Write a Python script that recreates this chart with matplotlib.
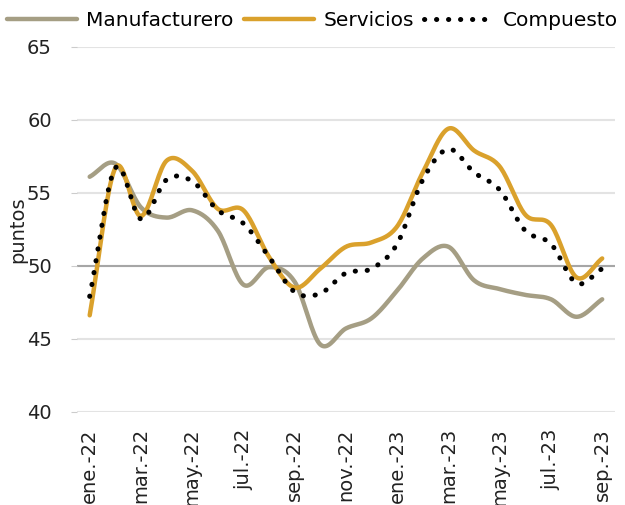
import numpy as np
import matplotlib
matplotlib.use("Agg")
import matplotlib.pyplot as plt

months = ["ene.-22", "feb.-22", "mar.-22", "abr.-22", "may.-22", "jun.-22", "jul.-22",
          "ago.-22", "sep.-22", "oct.-22", "nov.-22", "dic.-22", "ene.-23", "feb.-23",
          "mar.-23", "abr.-23", "may.-23", "jun.-23", "jul.-23", "ago.-23", "sep.-23"]
manufacturero = [56.1, 57.0, 54.0, 53.3, 53.8, 52.4, 48.7, 49.9, 48.9, 44.6, 45.7,
                 46.4, 48.3, 50.5, 51.3, 49.0, 48.4, 48.0, 47.7, 46.5, 47.7]
servicios = [46.6, 56.7, 53.4, 57.2, 56.5, 53.9, 53.8, 50.6, 48.5, 49.8, 51.3,
             51.6, 52.7, 56.4, 59.4, 57.9, 56.8, 53.5, 52.8, 49.2, 50.5]
compuesto = [47.9, 56.7, 53.2, 55.9, 55.8, 53.8, 52.9, 50.6, 48.2, 48.1, 49.5,
             49.8, 51.5, 55.9, 58.0, 56.4, 55.2, 52.4, 51.5, 48.8, 49.8]
yticks = [40, 45, 50, 55, 60, 65]

plt.rcParams['font.family'] = ['DejaVu Sans']


def smooth(y, n=20):
    y = np.asarray(y, dtype=float)
    x = np.arange(len(y), dtype=float)
    p = np.concatenate([[2 * y[0] - y[1]], y, [2 * y[-1] - y[-2]]])
    xs, ys = [], []
    for i in range(len(y) - 1):
        p0, p1, p2, p3 = p[i], p[i + 1], p[i + 2], p[i + 3]
        t = np.linspace(0, 1, n, endpoint=False)
        v = 0.5 * ((2 * p1) + (-p0 + p2) * t + (2 * p0 - 5 * p1 + 4 * p2 - p3) * t ** 2
                   + (-p0 + 3 * p1 - 3 * p2 + p3) * t ** 3)
        xs.append(x[i] + t)
        ys.append(v)
    xs.append([x[-1]])
    ys.append([y[-1]])
    return np.concatenate(xs), np.concatenate(ys)


fig = plt.figure(figsize=(6.25, 5.05), dpi=100)
ax = fig.add_axes([0.123, 0.185, 0.861, 0.722])

for yv in yticks:
    ax.axhline(yv, color="#e3e3e3", lw=1.5, zorder=0)
ax.axhline(50, color="#a6a6a6", lw=1.5, zorder=1)

tan = "#A59E84"
gold = "#DAA12C"
x, y = smooth(manufacturero)
ax.plot(x, y, color=tan, lw=3.2, solid_capstyle="round", label="Manufacturero", zorder=2)
x, y = smooth(servicios)
ax.plot(x, y, color=gold, lw=3.2, solid_capstyle="round", label="Servicios", zorder=3)
x, y = smooth(compuesto)
ax.plot(x, y, color="black", lw=3.6, linestyle=(0, (0.05, 2.35)), dash_capstyle="round",
        label="Compuesto", zorder=4)

ax.set_xlim(-0.5, 20.5)
ax.set_ylim(40, 65)
ax.set_yticks(yticks)
ax.set_xticks(range(0, len(months), 2))
ax.set_xticklabels(months[::2], rotation=90, fontsize=14, color="#222222")
ax.tick_params(axis="y", labelsize=14, length=4, color="#cccccc", pad=14, labelcolor="#222222")
ax.tick_params(axis="x", length=0, pad=12)
for s in ax.spines.values():
    s.set_visible(False)
ax.set_ylabel("puntos", fontsize=14, color="#222222", labelpad=0)

fig.legend(loc="upper center", bbox_to_anchor=(0.5, 1.015), ncol=3, frameon=False,
           fontsize=14.5, handlelength=3.5, columnspacing=0.5, handletextpad=0.45)

fig.savefig("out.png", dpi=100)
